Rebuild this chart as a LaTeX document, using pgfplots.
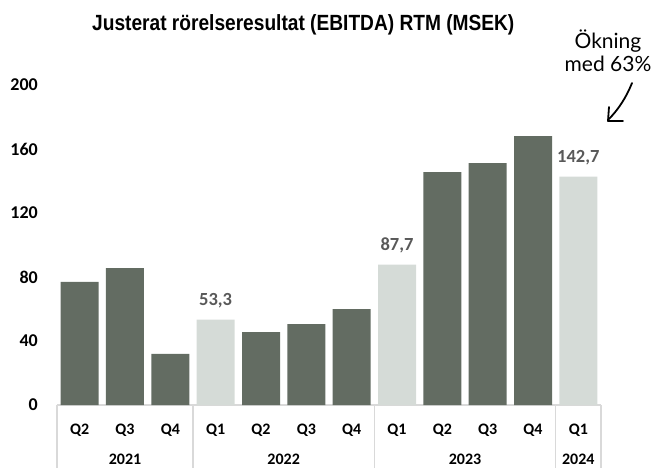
\documentclass[border=0pt]{standalone}
\usepackage{fontspec}
\setmainfont{Carlito}
\newfontfamily\titlefont{Liberation Sans}[FakeStretch=0.87]
\newfontfamily\handfont{Lato}
\usepackage{pgfplots}
\pgfplotsset{compat=1.18}
\definecolor{darkbar}{RGB}{99,108,98}
\definecolor{lightbar}{RGB}{213,219,215}
\definecolor{sepgray}{RGB}{217,217,217}
\definecolor{lblgray}{RGB}{89,89,89}
\begin{document}
\begin{tikzpicture}
\useasboundingbox (0,0) rectangle (657pt,-468pt);
\begin{axis}[
 at={(57pt,-405pt)}, anchor=south west,
 scale only axis, width=544pt, height=320pt,
 xmin=-0.5, xmax=11.5, ymin=0, ymax=200,
 ytick={0,40,80,120,160,200},
 xtick={0,...,11},
 xticklabels={Q2,Q3,Q4,Q1,Q2,Q3,Q4,Q1,Q2,Q3,Q4,Q1},
 axis x line=bottom, axis y line=left,
 x axis line style={draw=sepgray, line width=1.3pt, -},
 y axis line style={draw=none},
 major tick length=0pt, tick style={draw=none},
 /pgf/number format/assume math mode=true,
 yticklabel style={font=\fontsize{18}{18}\selectfont\bfseries, anchor=east, inner sep=0pt, xshift=-19pt},
 xticklabel style={font=\fontsize{16}{16}\selectfont\bfseries, anchor=base, inner sep=0pt, yshift=-29pt},
 ybar, bar width=38pt,
 clip=false,
]
\addplot[fill=darkbar, draw=none, bar shift=0pt] coordinates {
 (0,76.9) (1,85.6) (2,31.9) (4,45.6) (5,50.6) (6,60.0) (8,145.6) (9,151.2) (10,168.1)};
\addplot[fill=lightbar, draw=none, bar shift=0pt,
 nodes near coords={\pgfmathprintnumber[use comma,fixed,fixed zerofill,precision=1]{\pgfplotspointmeta}},
 nodes near coords style={font=\fontsize{18.5}{18.5}\selectfont\bfseries, text=lblgray, anchor=base, inner sep=0pt, yshift=14pt}
 ] coordinates {(3,53.3) (7,87.7) (11,142.7)};
\draw[sepgray, line width=1.3pt] (axis cs:-0.5,0) -- ([yshift=-70pt]axis cs:-0.5,0);
\draw[sepgray, line width=1.3pt] (axis cs:2.5,0) -- ([yshift=-70pt]axis cs:2.5,0);
\draw[sepgray, line width=1.3pt] (axis cs:6.5,0) -- ([yshift=-70pt]axis cs:6.5,0);
\draw[sepgray, line width=1.3pt] (axis cs:10.5,0) -- ([yshift=-70pt]axis cs:10.5,0);
\draw[sepgray, line width=1.3pt] (axis cs:11.5,0) -- ([yshift=-70pt]axis cs:11.5,0);
\node[font=\fontsize{16}{16}\selectfont\bfseries, anchor=base, inner sep=0pt] at ([yshift=-59pt]axis cs:1,0) {2021};
\node[font=\fontsize{16}{16}\selectfont\bfseries, anchor=base, inner sep=0pt] at ([yshift=-59pt]axis cs:4.5,0) {2022};
\node[font=\fontsize{16}{16}\selectfont\bfseries, anchor=base, inner sep=0pt] at ([yshift=-59pt]axis cs:8.5,0) {2023};
\node[font=\fontsize{16}{16}\selectfont\bfseries, anchor=base, inner sep=0pt] at ([yshift=-59pt]axis cs:11,0) {2024};
\end{axis}
\begin{scope}[x=1pt,y=-1pt]
\node[font=\titlefont\bfseries\fontsize{22}{22}\selectfont, anchor=base west, inner sep=0pt] at (92,31) {Justerat rörelseresultat (EBITDA) RTM (MSEK)};
\node[font=\handfont\fontsize{21}{21}\selectfont, anchor=base, inner sep=0pt] at (608,49) {Ökning};
\node[font=\handfont\fontsize{21}{21}\selectfont, anchor=base, inner sep=0pt] at (608,72) {med 63\%};
\draw[line width=1.8pt, line cap=round, line join=round] (632,83) .. controls (626,98) and (618,110) .. (608,120);
\draw[line width=1.8pt, line cap=round, line join=round] (609,107) -- (608,121) -- (623,121);
\end{scope}
\end{tikzpicture}
\end{document}
